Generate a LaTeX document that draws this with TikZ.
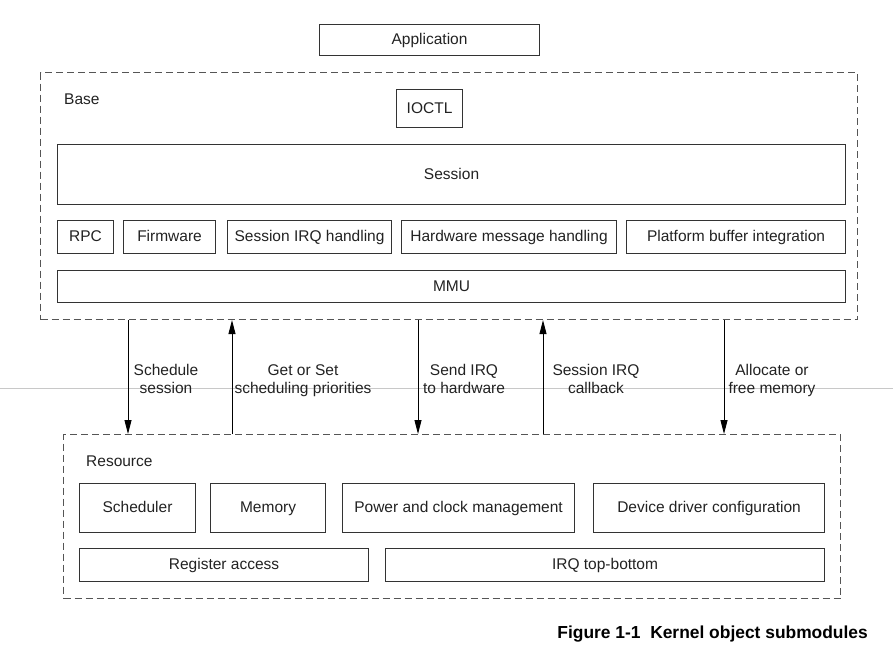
\documentclass[tikz,border=0pt]{standalone}
\usepackage{fontspec}
\setmainfont{Liberation Sans}
\usetikzlibrary{arrows.meta}
\definecolor{txt}{HTML}{222222}
\definecolor{edge}{HTML}{333333}
\definecolor{dashc}{HTML}{555555}
\tikzset{
  every node/.style={text=txt, font=\fontsize{15.5}{18}\selectfont},
  box/.style={draw=edge, line width=1.1pt, inner sep=0pt, anchor=north west},
  boxtext/.style={inner sep=0pt, text height=12pt, text depth=3pt},
  grp/.style={draw=dashc, line width=1.1pt, dash pattern=on 7pt off 4pt, inner sep=0pt, anchor=north west},
  lbl/.style={align=center, inner sep=0pt, anchor=north},
  arr/.style={draw=black, line width=0.9pt, -{Triangle[length=14pt,width=7pt]}},
}
\newcommand{\bx}[6]{% name, x1, y1, x2, y2, text
  \node[box, minimum width=#4pt-#2pt, minimum height=#5pt-#3pt] (#1) at (#2,#3) {};
  \node[boxtext] at (#1.center) {#6};}
\begin{document}
\begin{tikzpicture}[x=1pt, y=-1pt]
\useasboundingbox (0,0) rectangle (893,645);
% faint horizontal rule
\draw[line width=0.8pt, draw={rgb,255:red,200;green,200;blue,200}] (0,388) -- (893,388);
% containers
\node[grp, minimum width=817pt, minimum height=247pt] (base) at (40,72) {};
\node[grp, minimum width=777pt, minimum height=164pt] (res) at (63,434) {};
\node[anchor=west, boxtext] (basel) at (64,100) {Base};
\node[anchor=west, boxtext] (resl) at (86,462) {Resource};
% top
\bx{app}{319}{24}{539}{55}{Application}
\bx{ioctl}{396}{89}{462}{127}{IOCTL}
\bx{sess}{57}{144}{845}{204}{Session}
\bx{rpc}{57}{220}{113}{253}{RPC}
\bx{fw}{123}{220}{215}{253}{Firmware}
\bx{sirq}{227}{220}{391}{253}{Session IRQ handling}
\bx{hwm}{401}{220}{616}{253}{Hardware message handling}
\bx{pbi}{626}{220}{845}{253}{Platform buffer integration}
\bx{mmu}{57}{270}{845}{302}{MMU}
% resource
\bx{sch}{79}{483}{195}{532}{Scheduler}
\bx{mem}{210}{483}{325}{532}{Memory}
\bx{pwr}{342}{483}{574}{532}{Power and clock management}
\bx{ddc}{593}{483}{824}{532}{Device driver configuration}
\bx{reg}{79}{548}{368}{581}{Register access}
\bx{irq}{385}{548}{824}{581}{IRQ top-bottom}
% arrows
\coordinate (c1) at (128,0);
\coordinate (c2) at (232,0);
\coordinate (c3) at (418,0);
\coordinate (c4) at (543,0);
\coordinate (c5) at (724,0);
\draw[arr] (c1 |- base.south) -- (c1 |- res.north);
\draw[arr] (c2 |- res.north) -- (c2 |- base.south);
\draw[arr] (c3 |- base.south) -- (c3 |- res.north);
\draw[arr] (c4 |- res.north) -- (c4 |- base.south);
\draw[arr] (c5 |- base.south) -- (c5 |- res.north);
% arrow labels
\node[lbl] (l1) at (166,364) {Schedule\\session};
\node[lbl] (l2) at (303,364) {Get or Set\\scheduling priorities};
\node[lbl] (l3) at (464,364) {Send IRQ\\to hardware};
\node[lbl] (l4) at (596,364) {Session IRQ\\callback};
\node[lbl] (l5) at (772,364) {Allocate or\\free memory};
% caption
\node[anchor=east, inner sep=0pt, font=\bfseries\fontsize{17.4}{20}\selectfont, text=black] (cap) at (868,634) {Figure 1-1\ \ Kernel object submodules};
\end{tikzpicture}
\end{document}
